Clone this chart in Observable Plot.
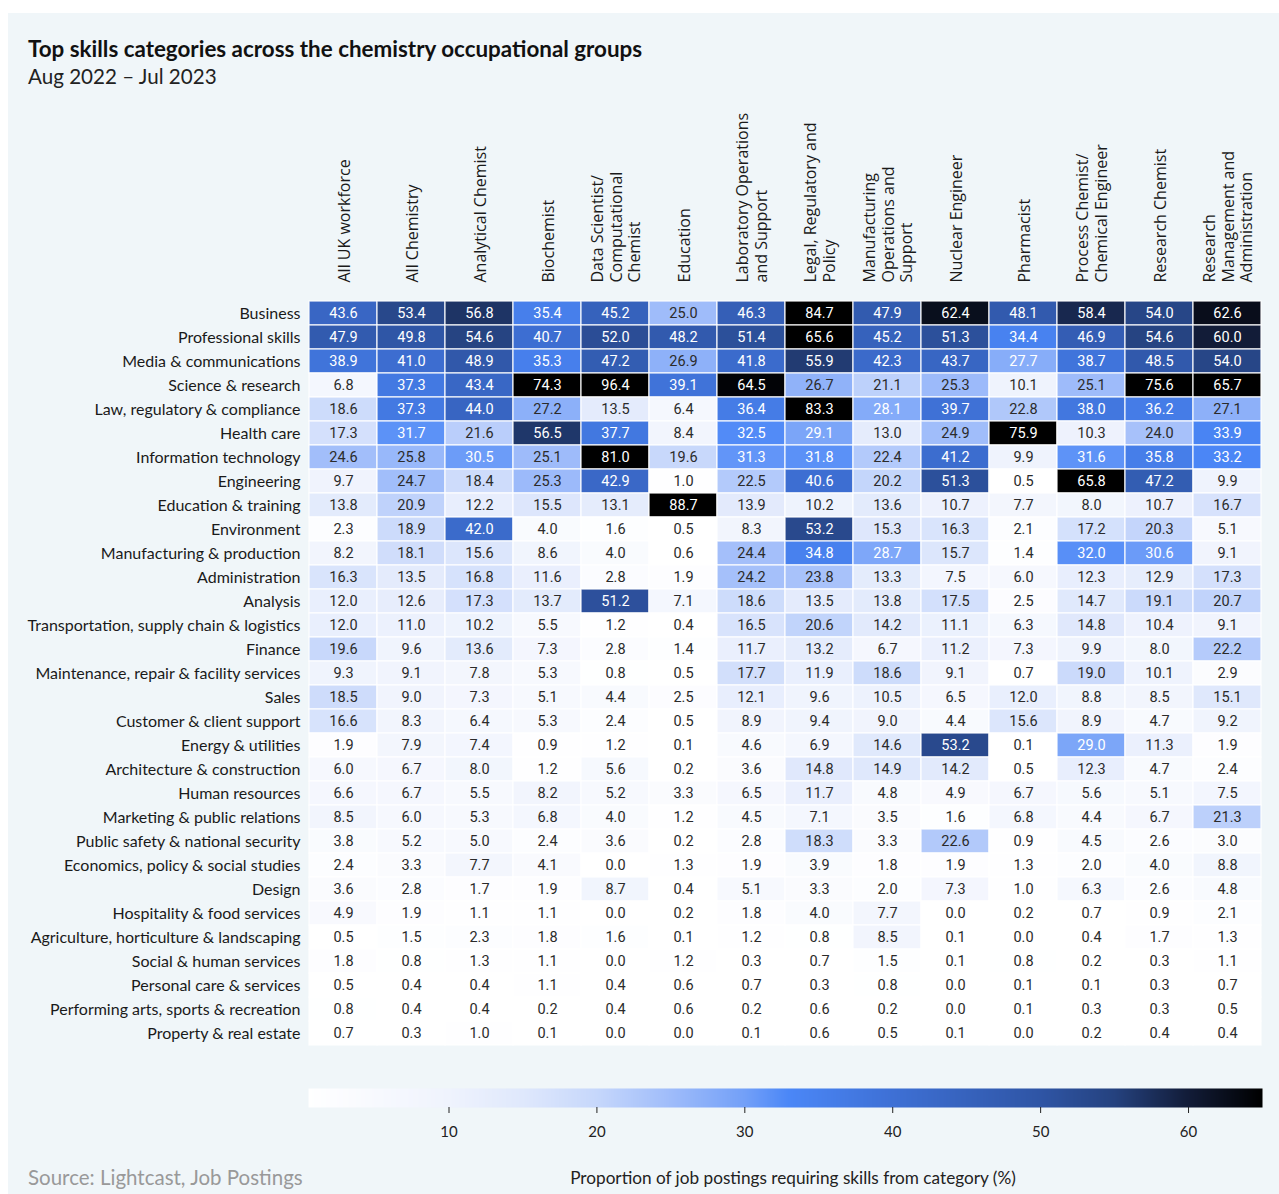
<!DOCTYPE html>
<html>
<head>
<meta charset="utf-8">
<script src="https://cdn.jsdelivr.net/npm/d3@7"></script>
<script src="https://cdn.jsdelivr.net/npm/@observablehq/plot@0.6"></script>
<style>
  html, body { margin: 0; padding: 0; background: #ffffff; }
  #panel { position: absolute; left: 8px; top: 13px; width: 1271px; height: 1181px; background: #f0f6f9; overflow: hidden; }
  #title { position: absolute; left: 20px; top: 22px; font: bold 22.4px Lato, sans-serif; color: #111; white-space: nowrap; }
  #subtitle { position: absolute; left: 20px; top: 51px; font: 20.6px Lato, sans-serif; color: #222; white-space: nowrap; }
  #chart { position: absolute; left: 0; top: 87px; }
  #legend { position: absolute; left: 0; top: 1067px; }
  #source { position: absolute; left: 20px; top: 1152px; font: 20.5px Lato, sans-serif; color: #999; white-space: nowrap; }
  #axislabel { position: absolute; left: 785px; top: 1154px; transform: translateX(-50%); font: 17.2px Lato, sans-serif; color: #222; white-space: nowrap; }
</style>
</head>
<body>
<div id="panel">
  <div id="title">Top skills categories across the chemistry occupational groups</div>
  <div id="subtitle">Aug 2022 – Jul 2023</div>
  <div id="chart"></div>
  <div id="legend"></div>
  <div id="source">Source: Lightcast, Job Postings</div>
  <div id="axislabel">Proportion of job postings requiring skills from category (%)</div>
</div>
<script>
// Occupational groups (columns)
const occupations = [
  "All UK workforce",
  "All Chemistry",
  "Analytical Chemist",
  "Biochemist",
  "Data Scientist/\nComputational\nChemist",
  "Education",
  "Laboratory Operations\nand Support",
  "Legal, Regulatory and\nPolicy",
  "Manufacturing\nOperations and\nSupport",
  "Nuclear Engineer",
  "Pharmacist",
  "Process Chemist/\nChemical Engineer",
  "Research Chemist",
  "Research\nManagement and\nAdministration"
];

// Skills categories (rows)
const skills = [
  "Business", "Professional skills", "Media & communications", "Science & research",
  "Law, regulatory & compliance", "Health care", "Information technology", "Engineering",
  "Education & training", "Environment", "Manufacturing & production", "Administration",
  "Analysis", "Transportation, supply chain & logistics", "Finance",
  "Maintenance, repair & facility services", "Sales", "Customer & client support",
  "Energy & utilities", "Architecture & construction", "Human resources",
  "Marketing & public relations", "Public safety & national security",
  "Economics, policy & social studies", "Design", "Hospitality & food services",
  "Agriculture, horticulture & landscaping", "Social & human services",
  "Personal care & services", "Performing arts, sports & recreation", "Property & real estate"
];

// Share of job postings (%) per occupational group, in the order of `skills`
const allUK = [43.6, 47.9, 38.9, 6.8, 18.6, 17.3, 24.6, 9.7, 13.8, 2.3, 8.2, 16.3, 12.0, 12.0, 19.6, 9.3, 18.5, 16.6, 1.9, 6.0, 6.6, 8.5, 3.8, 2.4, 3.6, 4.9, 0.5, 1.8, 0.5, 0.8, 0.7];
const allChemistry = [53.4, 49.8, 41.0, 37.3, 37.3, 31.7, 25.8, 24.7, 20.9, 18.9, 18.1, 13.5, 12.6, 11.0, 9.6, 9.1, 9.0, 8.3, 7.9, 6.7, 6.7, 6.0, 5.2, 3.3, 2.8, 1.9, 1.5, 0.8, 0.4, 0.4, 0.3];
const analyticalChemist = [56.8, 54.6, 48.9, 43.4, 44.0, 21.6, 30.5, 18.4, 12.2, 42.0, 15.6, 16.8, 17.3, 10.2, 13.6, 7.8, 7.3, 6.4, 7.4, 8.0, 5.5, 5.3, 5.0, 7.7, 1.7, 1.1, 2.3, 1.3, 0.4, 0.4, 1.0];
const biochemist = [35.4, 40.7, 35.3, 74.3, 27.2, 56.5, 25.1, 25.3, 15.5, 4.0, 8.6, 11.6, 13.7, 5.5, 7.3, 5.3, 5.1, 5.3, 0.9, 1.2, 8.2, 6.8, 2.4, 4.1, 1.9, 1.1, 1.8, 1.1, 1.1, 0.2, 0.1];
const dataScientist = [45.2, 52.0, 47.2, 96.4, 13.5, 37.7, 81.0, 42.9, 13.1, 1.6, 4.0, 2.8, 51.2, 1.2, 2.8, 0.8, 4.4, 2.4, 1.2, 5.6, 5.2, 4.0, 3.6, 0.0, 8.7, 0.0, 1.6, 0.0, 0.4, 0.4, 0.0];
const education = [25.0, 48.2, 26.9, 39.1, 6.4, 8.4, 19.6, 1.0, 88.7, 0.5, 0.6, 1.9, 7.1, 0.4, 1.4, 0.5, 2.5, 0.5, 0.1, 0.2, 3.3, 1.2, 0.2, 1.3, 0.4, 0.2, 0.1, 1.2, 0.6, 0.6, 0.0];
const labOperations = [46.3, 51.4, 41.8, 64.5, 36.4, 32.5, 31.3, 22.5, 13.9, 8.3, 24.4, 24.2, 18.6, 16.5, 11.7, 17.7, 12.1, 8.9, 4.6, 3.6, 6.5, 4.5, 2.8, 1.9, 5.1, 1.8, 1.2, 0.3, 0.7, 0.2, 0.1];
const legalRegulatory = [84.7, 65.6, 55.9, 26.7, 83.3, 29.1, 31.8, 40.6, 10.2, 53.2, 34.8, 23.8, 13.5, 20.6, 13.2, 11.9, 9.6, 9.4, 6.9, 14.8, 11.7, 7.1, 18.3, 3.9, 3.3, 4.0, 0.8, 0.7, 0.3, 0.6, 0.6];
const manufacturingOps = [47.9, 45.2, 42.3, 21.1, 28.1, 13.0, 22.4, 20.2, 13.6, 15.3, 28.7, 13.3, 13.8, 14.2, 6.7, 18.6, 10.5, 9.0, 14.6, 14.9, 4.8, 3.5, 3.3, 1.8, 2.0, 7.7, 8.5, 1.5, 0.8, 0.2, 0.5];
const nuclearEngineer = [62.4, 51.3, 43.7, 25.3, 39.7, 24.9, 41.2, 51.3, 10.7, 16.3, 15.7, 7.5, 17.5, 11.1, 11.2, 9.1, 6.5, 4.4, 53.2, 14.2, 4.9, 1.6, 22.6, 1.9, 7.3, 0.0, 0.1, 0.1, 0.0, 0.0, 0.1];
const pharmacist = [48.1, 34.4, 27.7, 10.1, 22.8, 75.9, 9.9, 0.5, 7.7, 2.1, 1.4, 6.0, 2.5, 6.3, 7.3, 0.7, 12.0, 15.6, 0.1, 0.5, 6.7, 6.8, 0.9, 1.3, 1.0, 0.2, 0.0, 0.8, 0.1, 0.1, 0.0];
const processChemist = [58.4, 46.9, 38.7, 25.1, 38.0, 10.3, 31.6, 65.8, 8.0, 17.2, 32.0, 12.3, 14.7, 14.8, 9.9, 19.0, 8.8, 8.9, 29.0, 12.3, 5.6, 4.4, 4.5, 2.0, 6.3, 0.7, 0.4, 0.2, 0.1, 0.3, 0.2];
const researchChemist = [54.0, 54.6, 48.5, 75.6, 36.2, 24.0, 35.8, 47.2, 10.7, 20.3, 30.6, 12.9, 19.1, 10.4, 8.0, 10.1, 8.5, 4.7, 11.3, 4.7, 5.1, 6.7, 2.6, 4.0, 2.6, 0.9, 1.7, 0.3, 0.3, 0.3, 0.4];
const researchManagement = [62.6, 60.0, 54.0, 65.7, 27.1, 33.9, 33.2, 9.9, 16.7, 5.1, 9.1, 17.3, 20.7, 9.1, 22.2, 2.9, 15.1, 9.2, 1.9, 2.4, 7.5, 21.3, 3.0, 8.8, 4.8, 2.1, 1.3, 1.1, 0.7, 0.5, 0.4];

const columns = [allUK, allChemistry, analyticalChemist, biochemist, dataScientist, education,
  labOperations, legalRegulatory, manufacturingOps, nuclearEngineer, pharmacist,
  processChemist, researchChemist, researchManagement];

// Colour scale stops
const colorStops = [0.5, 10, 15, 20, 25, 30, 33, 40, 50, 55, 60, 65];
const colorRange = ["#ffffff", "#eff3fd", "#dfe8fc", "#c6d7fb", "#9fbcfa", "#73a0f8", "#4b87f7", "#3e70d5", "#2f55a5", "#25427f", "#121c38", "#000000"];
const legendTicks = [10, 20, 30, 40, 50, 60];

const table = skills.flatMap((s, i) => occupations.map((o, j) => ({skill: s, occ: o, v: columns[j][i]})));

const colorScale = {type: "linear", domain: colorStops, range: colorRange, interpolate: "rgb", clamp: true};
const numFont = "'Liberation Sans Narrow', 'Roboto', sans-serif";

const chart = Plot.plot({
  width: 1263,
  height: 950,
  marginLeft: 300,
  marginRight: 9,
  marginTop: 198,
  marginBottom: 2,
  style: {background: "transparent", fontFamily: "Lato, sans-serif"},
  x: {domain: occupations, padding: 0, axis: null},
  y: {domain: skills, padding: 0, axis: null},
  color: colorScale,
  marks: [
    Plot.cell(table, {x: "occ", y: "skill", fill: "v", stroke: "#ffffff", strokeWidth: 1.3, strokeOpacity: 0.85}),
    Plot.text(table.filter(d => d.v <= 27.5), {x: "occ", y: "skill", text: d => d.v.toFixed(1), fill: "#2b2b2b", fontSize: 14.5, fontFamily: numFont}),
    Plot.text(table.filter(d => d.v > 27.5), {x: "occ", y: "skill", text: d => d.v.toFixed(1), fill: "#ffffff", fontSize: 14.5, fontFamily: numFont}),
    Plot.text(occupations, {x: d => d, text: d => d, frameAnchor: "top", dy: -16, rotate: -90, textAnchor: "start", lineAnchor: "middle", lineHeight: 1.17, fontSize: 16, fontFamily: "'Open Sans', sans-serif", fill: "#1a1a1a"}),
    Plot.axisY({tickSize: 0, tickPadding: 8, fontSize: 16, fontFamily: "Lato, sans-serif", color: "#1a1a1a", label: null})
  ]
});
document.getElementById("chart").append(chart);

const legend = Plot.plot({
  width: 1263,
  height: 67,
  marginLeft: 300,
  marginRight: 9,
  marginTop: 8,
  marginBottom: 40,
  style: {background: "transparent", fontFamily: "Lato, sans-serif"},
  x: {domain: [colorStops[0], colorStops[colorStops.length - 1]], axis: null},
  y: {domain: [0, 1], axis: null},
  color: colorScale,
  marks: [
    Plot.raster({x1: colorStops[0], x2: colorStops[colorStops.length - 1], y1: 0, y2: 1, fill: (x, y) => x, pixelSize: 1}),
    Plot.axisX({ticks: legendTicks, tickSize: 6, tickPadding: 13, fontSize: 15, color: "#222", label: null, tickFormat: d => d})
  ]
});
document.getElementById("legend").append(legend);
</script>
</body>
</html>
